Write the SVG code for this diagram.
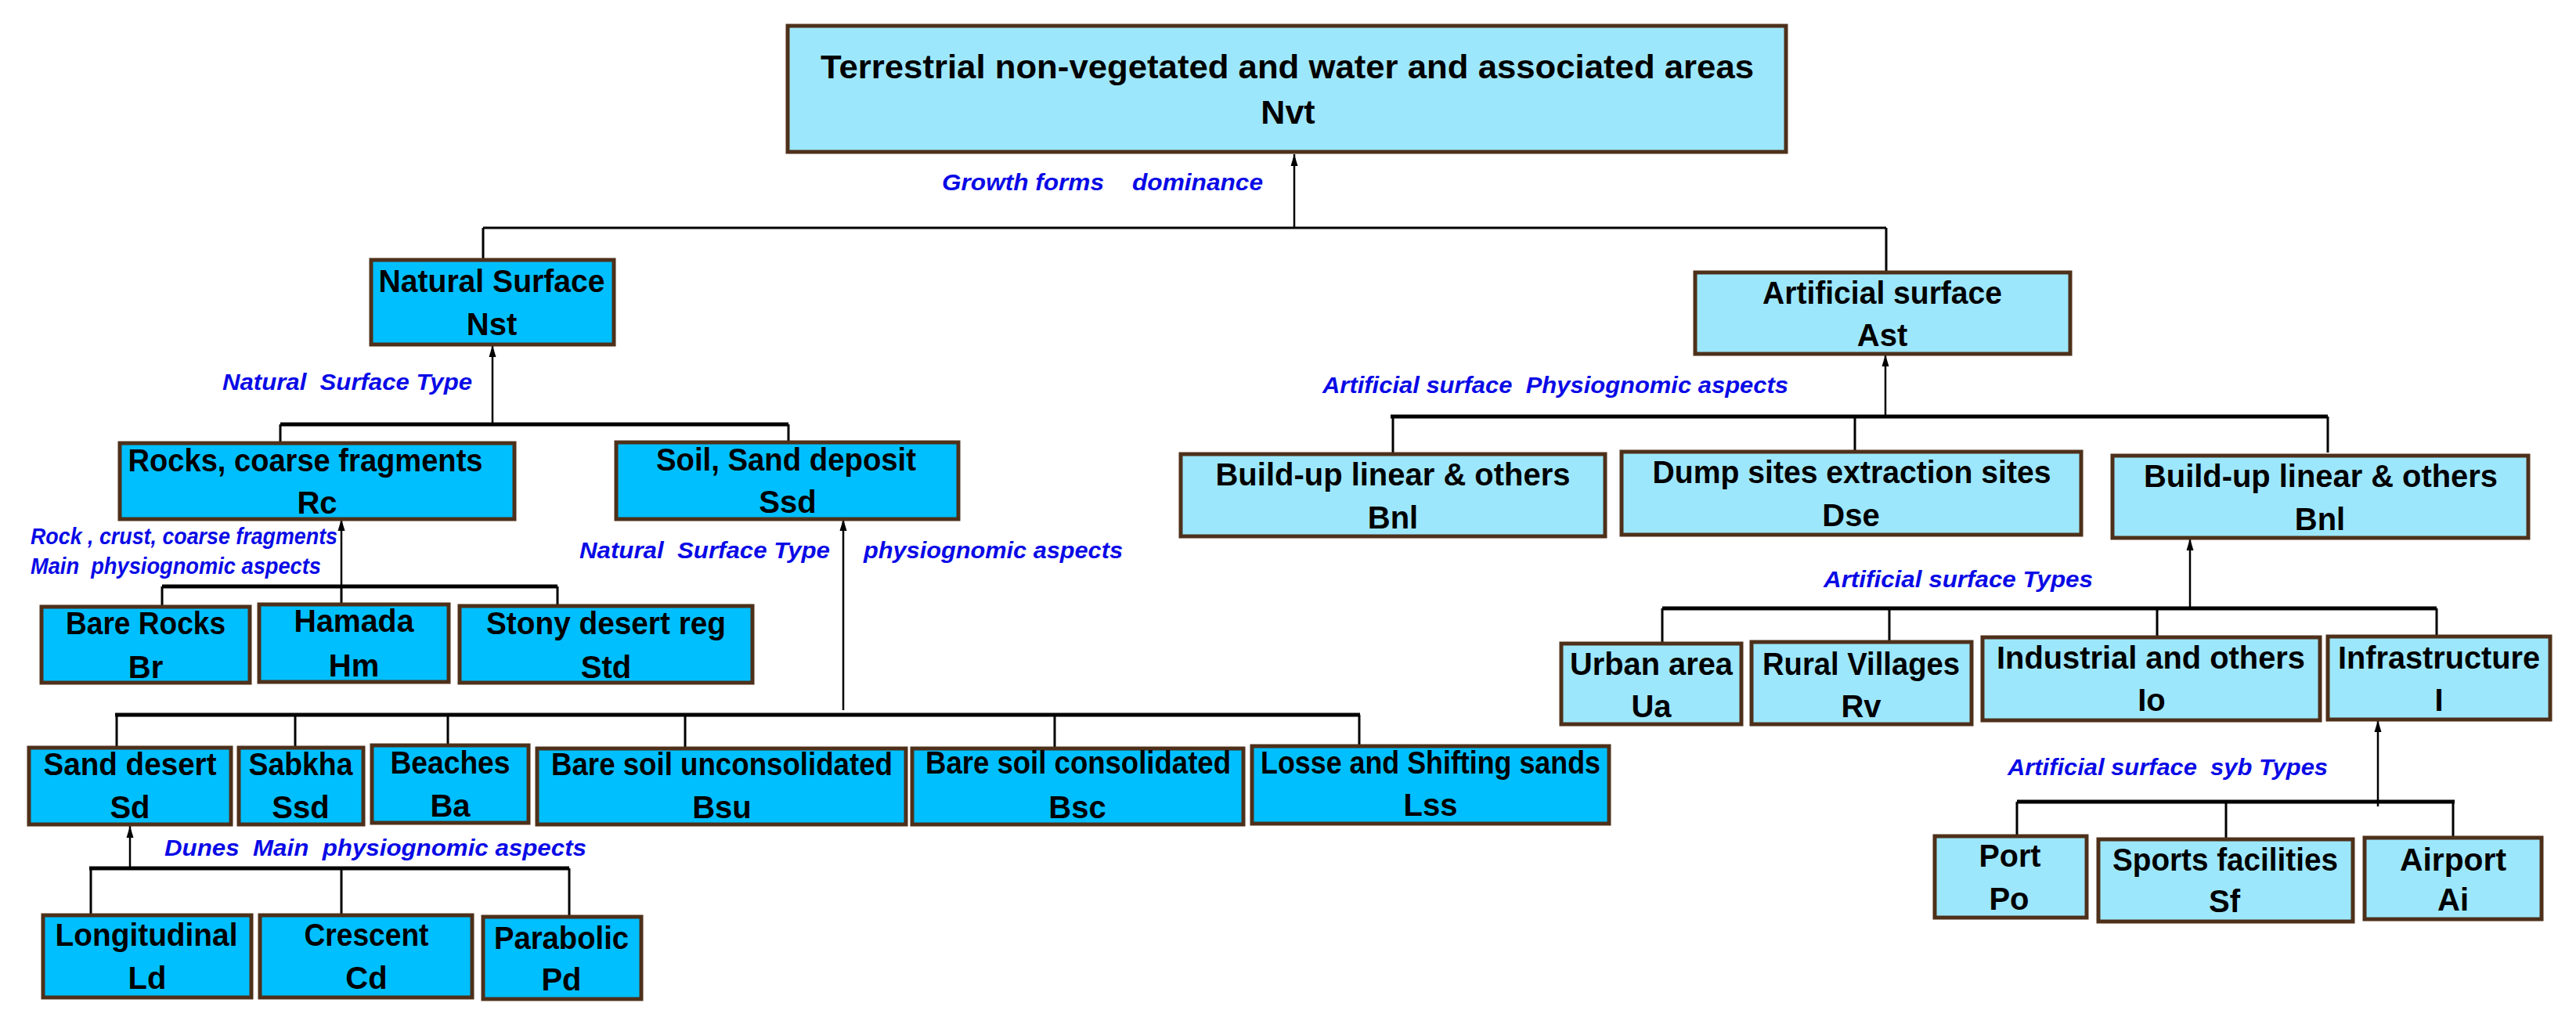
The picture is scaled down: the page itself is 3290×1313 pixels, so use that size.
<svg xmlns="http://www.w3.org/2000/svg" width="3290" height="1313" viewBox="0 0 3290 1313">
<style>
.nat{fill:#00bfff;stroke:#4e301a;stroke-width:5}
.art{fill:#9de7fc;stroke:#4e301a;stroke-width:5}
.t{font-family:"Liberation Sans",Arial,sans-serif;font-weight:bold;font-size:40px;text-anchor:middle;fill:#000}
.ti{font-size:43px}
.lbl{font-family:"Liberation Sans",Arial,sans-serif;font-weight:bold;font-style:italic;font-size:30px;fill:#0a0ae6;white-space:pre}
.ln{stroke:#000;stroke-width:3;fill:none}
.bar{stroke:#000;stroke-width:5;fill:none}
.arr{stroke:#000;stroke-width:2.5;fill:none;marker-end:url(#ah)}
</style>
<defs>
<marker id="ah" markerUnits="userSpaceOnUse" markerWidth="16" markerHeight="10" refX="15" refY="5" orient="auto" viewBox="0 0 16 10">
<path d="M0,0.5 L15,5 L0,9.5 z" fill="#000"/>
</marker>
</defs>
<rect width="3290" height="1313" fill="#fff"/>

<g id="connectors">
<line class="arr" x1="1653" y1="291" x2="1653" y2="197"/>
<line class="ln" x1="617" y1="291" x2="2409" y2="291"/>
<line class="ln" x1="617" y1="291" x2="617" y2="332"/>
<line class="ln" x1="2409" y1="291" x2="2409" y2="348"/>

<line class="arr" x1="629" y1="540" x2="629" y2="441"/>
<line class="bar" x1="358" y1="542" x2="1007" y2="542"/>
<line class="ln" x1="358" y1="542" x2="358" y2="566"/>
<line class="ln" x1="1007" y1="542" x2="1007" y2="565"/>

<line class="arr" x1="436" y1="747" x2="436" y2="663"/>
<line class="bar" x1="207" y1="749" x2="712" y2="749"/>
<line class="ln" x1="207" y1="749" x2="207" y2="775"/>
<line class="ln" x1="436" y1="749" x2="436" y2="772"/>
<line class="ln" x1="712" y1="749" x2="712" y2="774"/>

<line class="arr" x1="1077" y1="907" x2="1077" y2="663"/>
<line class="bar" x1="147" y1="913" x2="1737" y2="913"/>
<line class="ln" x1="149" y1="913" x2="149" y2="955"/>
<line class="ln" x1="377" y1="913" x2="377" y2="955"/>
<line class="ln" x1="572" y1="913" x2="572" y2="952"/>
<line class="ln" x1="875" y1="913" x2="875" y2="956"/>
<line class="ln" x1="1347" y1="913" x2="1347" y2="956"/>
<line class="ln" x1="1736" y1="913" x2="1736" y2="958"/>

<line class="arr" x1="166" y1="1111" x2="166" y2="1055"/>
<line class="bar" x1="114" y1="1109" x2="727" y2="1109"/>
<line class="ln" x1="116" y1="1111" x2="116" y2="1169"/>
<line class="ln" x1="436" y1="1109" x2="436" y2="1170"/>
<line class="ln" x1="727" y1="1109" x2="727" y2="1173"/>

<line class="arr" x1="2408" y1="531" x2="2408" y2="453"/>
<line class="bar" x1="1776" y1="532" x2="2973" y2="532"/>
<line class="ln" x1="1779" y1="532" x2="1779" y2="580"/>
<line class="ln" x1="2369" y1="532" x2="2369" y2="577"/>
<line class="ln" x1="2973" y1="532" x2="2973" y2="578"/>

<line class="arr" x1="2797" y1="775" x2="2797" y2="688"/>
<line class="bar" x1="2123" y1="777" x2="3112" y2="777"/>
<line class="ln" x1="2123" y1="777" x2="2123" y2="822"/>
<line class="ln" x1="2413" y1="777" x2="2413" y2="820"/>
<line class="ln" x1="2755" y1="777" x2="2755" y2="814"/>
<line class="ln" x1="3112" y1="777" x2="3112" y2="813"/>

<line class="arr" x1="3037" y1="1030" x2="3037" y2="920"/>
<line class="bar" x1="2576" y1="1024" x2="3135" y2="1024"/>
<line class="ln" x1="2576" y1="1024" x2="2576" y2="1068"/>
<line class="ln" x1="2843" y1="1024" x2="2843" y2="1072"/>
<line class="ln" x1="3133" y1="1024" x2="3133" y2="1070"/>
</g>

<g id="labels">
<text class="lbl" x="1203" y="243" textLength="207" lengthAdjust="spacingAndGlyphs">Growth forms</text>
<text class="lbl" x="1446" y="243" textLength="167" lengthAdjust="spacingAndGlyphs">dominance</text>
<text class="lbl" x="284" y="498" textLength="319" lengthAdjust="spacingAndGlyphs">Natural  Surface Type</text>
<text class="lbl" x="39" y="695" textLength="392" lengthAdjust="spacingAndGlyphs">Rock , crust, coarse fragments</text>
<text class="lbl" x="39" y="733" textLength="371" lengthAdjust="spacingAndGlyphs">Main  physiognomic aspects</text>
<text class="lbl" x="740" y="713" textLength="320" lengthAdjust="spacingAndGlyphs">Natural  Surface Type</text>
<text class="lbl" x="1103" y="713" textLength="331" lengthAdjust="spacingAndGlyphs">physiognomic aspects</text>
<text class="lbl" x="210" y="1093" textLength="539" lengthAdjust="spacingAndGlyphs">Dunes  Main  physiognomic aspects</text>
<text class="lbl" x="1689" y="502" textLength="595" lengthAdjust="spacingAndGlyphs">Artificial surface  Physiognomic aspects</text>
<text class="lbl" x="2329" y="750" textLength="344" lengthAdjust="spacingAndGlyphs">Artificial surface Types</text>
<text class="lbl" x="2564" y="990" textLength="409" lengthAdjust="spacingAndGlyphs">Artificial surface  syb Types</text>
</g>

<g id="Nvt">
<rect class="art" x="1006" y="33" width="1275" height="161"/>
<text class="t ti" x="1644" y="100" textLength="1192" lengthAdjust="spacingAndGlyphs">Terrestrial non-vegetated and water and associated areas</text>
<text class="t ti" x="1645" y="158">Nvt</text>
</g>

<g id="Nst">
<rect class="nat" x="474" y="332" width="310" height="108"/>
<text class="t" x="628" y="373" textLength="289" lengthAdjust="spacingAndGlyphs">Natural Surface</text>
<text class="t" x="628" y="428">Nst</text>
</g>
<g id="Rc">
<rect class="nat" x="153" y="566" width="504" height="97"/>
<text class="t" x="390" y="602" textLength="453" lengthAdjust="spacingAndGlyphs">Rocks, coarse fragments</text>
<text class="t" x="405" y="656">Rc</text>
</g>
<g id="Ssd">
<rect class="nat" x="787" y="565" width="437" height="98"/>
<text class="t" x="1004" y="601" textLength="332" lengthAdjust="spacingAndGlyphs">Soil, Sand deposit</text>
<text class="t" x="1006" y="655">Ssd</text>
</g>
<g id="Br">
<rect class="nat" x="53" y="775" width="266" height="97"/>
<text class="t" x="186" y="810" textLength="204" lengthAdjust="spacingAndGlyphs">Bare Rocks</text>
<text class="t" x="186" y="866">Br</text>
</g>
<g id="Hm">
<rect class="nat" x="331" y="772" width="242" height="99"/>
<text class="t" x="452" y="807" textLength="153" lengthAdjust="spacingAndGlyphs">Hamada</text>
<text class="t" x="452" y="864">Hm</text>
</g>
<g id="Std">
<rect class="nat" x="587" y="774" width="374" height="98"/>
<text class="t" x="774" y="810" textLength="306" lengthAdjust="spacingAndGlyphs">Stony desert reg</text>
<text class="t" x="774" y="866">Std</text>
</g>
<g id="Sd">
<rect class="nat" x="37" y="955" width="258" height="98"/>
<text class="t" x="166" y="990" textLength="221" lengthAdjust="spacingAndGlyphs">Sand desert</text>
<text class="t" x="166" y="1045">Sd</text>
</g>
<g id="Sabkha">
<rect class="nat" x="305" y="955" width="159" height="98"/>
<text class="t" x="384" y="990" textLength="133" lengthAdjust="spacingAndGlyphs">Sabkha</text>
<text class="t" x="384" y="1045">Ssd</text>
</g>
<g id="Ba">
<rect class="nat" x="475" y="952" width="200" height="99"/>
<text class="t" x="575" y="988" textLength="153" lengthAdjust="spacingAndGlyphs">Beaches</text>
<text class="t" x="575" y="1043">Ba</text>
</g>
<g id="Bsu">
<rect class="nat" x="686" y="956" width="471" height="97"/>
<text class="t" x="922" y="990" textLength="436" lengthAdjust="spacingAndGlyphs">Bare soil unconsolidated</text>
<text class="t" x="922" y="1045">Bsu</text>
</g>
<g id="Bsc">
<rect class="nat" x="1165" y="956" width="423" height="97"/>
<text class="t" x="1377" y="988" textLength="390" lengthAdjust="spacingAndGlyphs">Bare soil consolidated</text>
<text class="t" x="1376" y="1045">Bsc</text>
</g>
<g id="Lss">
<rect class="nat" x="1599" y="953" width="456" height="99"/>
<text class="t" x="1827" y="988" textLength="434" lengthAdjust="spacingAndGlyphs">Losse and Shifting sands</text>
<text class="t" x="1827" y="1042">Lss</text>
</g>
<g id="Ld">
<rect class="nat" x="55" y="1169" width="266" height="105"/>
<text class="t" x="187" y="1208" textLength="233" lengthAdjust="spacingAndGlyphs">Longitudinal</text>
<text class="t" x="188" y="1263">Ld</text>
</g>
<g id="Cd">
<rect class="nat" x="332" y="1169" width="271" height="105"/>
<text class="t" x="468" y="1208" textLength="159" lengthAdjust="spacingAndGlyphs">Crescent</text>
<text class="t" x="468" y="1263">Cd</text>
</g>
<g id="Pd">
<rect class="nat" x="617" y="1171" width="202" height="105"/>
<text class="t" x="717" y="1212" textLength="172" lengthAdjust="spacingAndGlyphs">Parabolic</text>
<text class="t" x="717" y="1265">Pd</text>
</g>

<g id="Ast">
<rect class="art" x="2165" y="348" width="479" height="104"/>
<text class="t" x="2404" y="388" textLength="306" lengthAdjust="spacingAndGlyphs">Artificial surface</text>
<text class="t" x="2404" y="442">Ast</text>
</g>
<g id="Bnl1">
<rect class="art" x="1508" y="580" width="542" height="105"/>
<text class="t" x="1779" y="620" textLength="453" lengthAdjust="spacingAndGlyphs">Build-up linear &amp; others</text>
<text class="t" x="1779" y="675">Bnl</text>
</g>
<g id="Dse">
<rect class="art" x="2071" y="577" width="587" height="106"/>
<text class="t" x="2365" y="617" textLength="509" lengthAdjust="spacingAndGlyphs">Dump sites extraction sites</text>
<text class="t" x="2364" y="672">Dse</text>
</g>
<g id="Bnl2">
<rect class="art" x="2698" y="582" width="531" height="105"/>
<text class="t" x="2964" y="622" textLength="452" lengthAdjust="spacingAndGlyphs">Build-up linear &amp; others</text>
<text class="t" x="2963" y="677">Bnl</text>
</g>
<g id="Ua">
<rect class="art" x="1994" y="822" width="230" height="103"/>
<text class="t" x="2109" y="862" textLength="208" lengthAdjust="spacingAndGlyphs">Urban area</text>
<text class="t" x="2109" y="916">Ua</text>
</g>
<g id="Rv">
<rect class="art" x="2237" y="820" width="281" height="105"/>
<text class="t" x="2377" y="862" textLength="252" lengthAdjust="spacingAndGlyphs">Rural Villages</text>
<text class="t" x="2377" y="916">Rv</text>
</g>
<g id="Io">
<rect class="art" x="2532" y="814" width="431" height="106"/>
<text class="t" x="2747" y="854" textLength="394" lengthAdjust="spacingAndGlyphs">Industrial and others</text>
<text class="t" x="2748" y="908">Io</text>
</g>
<g id="I">
<rect class="art" x="2973" y="813" width="284" height="106"/>
<text class="t" x="3115" y="854" textLength="258" lengthAdjust="spacingAndGlyphs">Infrastructure</text>
<text class="t" x="3115" y="908">I</text>
</g>
<g id="Po">
<rect class="art" x="2471" y="1068" width="194" height="104"/>
<text class="t" x="2567" y="1107" textLength="79" lengthAdjust="spacingAndGlyphs">Port</text>
<text class="t" x="2566" y="1162">Po</text>
</g>
<g id="Sf">
<rect class="art" x="2680" y="1072" width="325" height="105"/>
<text class="t" x="2842" y="1112" textLength="288" lengthAdjust="spacingAndGlyphs">Sports facilities</text>
<text class="t" x="2841" y="1165">Sf</text>
</g>
<g id="Ai">
<rect class="art" x="3020" y="1070" width="226" height="104"/>
<text class="t" x="3133" y="1112" textLength="136" lengthAdjust="spacingAndGlyphs">Airport</text>
<text class="t" x="3133" y="1163">Ai</text>
</g>
</svg>
